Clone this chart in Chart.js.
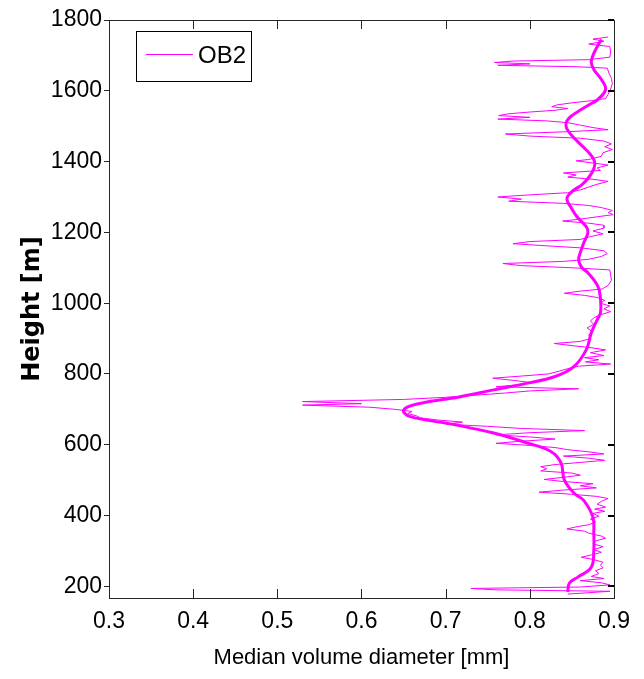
<!DOCTYPE html>
<html>
<head>
<meta charset="utf-8">
<title>OB2 median volume diameter</title>
<script src="https://cdn.jsdelivr.net/npm/chart.js@4.4.1/dist/chart.umd.min.js"></script>
<style>
  html, body { margin: 0; padding: 0; background: #fff; }
  canvas { display: block; }
</style>
</head>
<body>
<canvas id="mvdChart" width="644" height="679"></canvas>
<script>
'use strict';

// axis ticks
const xTicks = [0.3, 0.4, 0.5, 0.6, 0.7, 0.8, 0.9];
const yTicks = [200, 400, 600, 800, 1000, 1200, 1400, 1600, 1800];

// OB2 raw profile: height [m] and median volume diameter [mm]
const rawHeight = [
  1752, 1746, 1740, 1732, 1725, 1710, 1695, 1688, 1684, 1680,
  1676, 1672, 1668, 1664, 1650, 1635, 1620, 1605, 1590, 1578,
  1572, 1566, 1560, 1555, 1550, 1545, 1540, 1535, 1530, 1525,
  1520, 1515, 1510, 1503, 1496, 1490, 1484, 1478, 1472, 1466,
  1458, 1450, 1442, 1434, 1425, 1415, 1406, 1402, 1396, 1390,
  1382, 1375, 1368, 1362, 1356, 1350, 1344, 1336, 1328, 1320,
  1312, 1306, 1300, 1294, 1288, 1282, 1276, 1270, 1262, 1256,
  1250, 1244, 1238, 1232, 1226, 1220, 1212, 1204, 1196, 1188,
  1180, 1174, 1168, 1162, 1156, 1148, 1140, 1132, 1124, 1118,
  1112, 1106, 1100, 1094, 1080, 1065, 1050, 1040, 1034, 1028,
  1022, 1016, 1008, 1000, 992, 984, 976, 968, 960, 950,
  940, 930, 920, 910, 900, 892, 886, 880, 875, 868,
  860, 852, 846, 840, 834, 828, 822, 815, 808, 800,
  794, 788, 782, 776, 770, 764, 758, 752, 746, 740,
  734, 728, 722, 716, 712, 706, 700, 694, 688, 682,
  676, 670, 664, 658, 652, 646, 640, 634, 628, 622,
  616, 610, 604, 598, 592, 586, 580, 574, 568, 562,
  556, 550, 544, 538, 532, 526, 520, 514, 508, 502,
  496, 490, 484, 478, 472, 466, 460, 454, 448, 440,
  432, 424, 418, 412, 406, 398, 390, 382, 374, 368,
  362, 356, 350, 342, 336, 328, 320, 312, 304, 296,
  288, 282, 276, 268, 260, 252, 244, 236, 228, 222,
  216, 210, 204, 198, 194, 190, 186, 182, 178
];
const rawDiameter = [
  0.893, 0.875, 0.888, 0.870, 0.895, 0.896, 0.895, 0.870, 0.780, 0.758,
  0.800, 0.762, 0.855, 0.892, 0.894, 0.897, 0.898, 0.896, 0.893, 0.890,
  0.873, 0.850, 0.832, 0.826, 0.845, 0.830, 0.800, 0.775, 0.763, 0.800,
  0.762, 0.820, 0.845, 0.860, 0.875, 0.893, 0.840, 0.771, 0.800, 0.860,
  0.888, 0.897, 0.889, 0.898, 0.887, 0.885, 0.870, 0.855, 0.875, 0.893,
  0.880, 0.884, 0.840, 0.855, 0.845, 0.875, 0.893, 0.880, 0.870, 0.860,
  0.845, 0.800, 0.762, 0.790, 0.775, 0.840, 0.870, 0.885, 0.898, 0.893,
  0.899, 0.880, 0.862, 0.839, 0.870, 0.888, 0.888, 0.875, 0.887, 0.872,
  0.860, 0.800, 0.780, 0.820, 0.862, 0.888, 0.892, 0.885, 0.870, 0.840,
  0.768, 0.790, 0.850, 0.895, 0.896, 0.897, 0.893, 0.886, 0.860, 0.841,
  0.865, 0.880, 0.889, 0.884, 0.895, 0.888, 0.896, 0.885, 0.877, 0.872,
  0.876, 0.868, 0.874, 0.870, 0.872, 0.860, 0.829, 0.850, 0.870, 0.890,
  0.872, 0.888, 0.865, 0.882, 0.866, 0.896, 0.858, 0.845, 0.835, 0.822,
  0.790, 0.756, 0.780, 0.800, 0.790, 0.760, 0.858, 0.800, 0.770, 0.735,
  0.700, 0.650, 0.530, 0.600, 0.530, 0.610, 0.640, 0.660, 0.655, 0.665,
  0.670, 0.690, 0.720, 0.700, 0.750, 0.790, 0.865, 0.800, 0.760, 0.800,
  0.830, 0.790, 0.760, 0.800, 0.830, 0.845, 0.870, 0.888, 0.840, 0.870,
  0.889, 0.860, 0.830, 0.813, 0.820, 0.813, 0.850, 0.860, 0.840, 0.817,
  0.840, 0.875, 0.860, 0.879, 0.840, 0.811, 0.850, 0.880, 0.893, 0.885,
  0.880, 0.890, 0.877, 0.889, 0.875, 0.882, 0.872, 0.878, 0.870, 0.855,
  0.844, 0.865, 0.870, 0.885, 0.890, 0.878, 0.875, 0.887, 0.876, 0.885,
  0.872, 0.861, 0.875, 0.887, 0.884, 0.887, 0.878, 0.882, 0.873, 0.888,
  0.860, 0.885, 0.895, 0.860, 0.730, 0.760, 0.895, 0.870, 0.845
];

// smoothed OB2 profile
const smoothHeight = [
  1745, 1720, 1700, 1680, 1660, 1632, 1604, 1576, 1560, 1547,
  1530, 1515, 1500, 1485, 1468, 1440, 1420, 1400, 1380, 1355,
  1335, 1315, 1295, 1270, 1244, 1216, 1199, 1170, 1150, 1122,
  1100, 1086, 1047, 1010, 973, 953, 916, 868, 820, 792,
  774, 755, 735, 715, 698, 680, 657, 633, 605, 581,
  549, 501, 462, 443, 395, 350, 302, 254, 226, 209,
  184
];
const smoothDiameter = [
  0.885, 0.879, 0.875, 0.873, 0.876, 0.885, 0.890, 0.881, 0.870, 0.861,
  0.850, 0.844, 0.843, 0.846, 0.852, 0.864, 0.872, 0.877, 0.876, 0.870,
  0.862, 0.850, 0.844, 0.849, 0.856, 0.867, 0.869, 0.864, 0.861, 0.858,
  0.862, 0.869, 0.881, 0.884, 0.884, 0.880, 0.873, 0.867, 0.852, 0.829,
  0.797, 0.757, 0.716, 0.666, 0.650, 0.657, 0.710, 0.757, 0.797, 0.825,
  0.837, 0.841, 0.853, 0.864, 0.875, 0.876, 0.876, 0.873, 0.857, 0.847,
  0.845
];

const MAGENTA = '#ff00ff';
const AXIS = '#262626';
const sansFont = '"Liberation Sans", Arial, Helvetica, sans-serif';

const rawPoints = rawHeight.map((h, i) => ({ x: rawDiameter[i], y: h }));
const smoothPoints = smoothHeight.map((h, i) => ({ x: smoothDiameter[i], y: h }));

// box frame with inward ticks on top/right/bottom, plus the boxed legend
const matlabBox = {
  id: 'matlabBox',
  afterDatasetsDraw(chart) {
    const { ctx, chartArea: a, scales: { x, y } } = chart;
    ctx.save();
    ctx.strokeStyle = AXIS;
    ctx.lineWidth = 1;
    ctx.strokeRect(a.left + 0.5, a.top + 0.5, a.right - a.left, a.bottom - a.top);

    ctx.beginPath();
    xTicks.slice(1, -1).forEach(v => {
      const px = Math.round(x.getPixelForValue(v)) + 0.5;
      ctx.moveTo(px, a.top);
      ctx.lineTo(px, a.top + 9);
      ctx.moveTo(px, a.bottom);
      ctx.lineTo(px, a.bottom - 9);
    });
    ctx.stroke();

    ctx.strokeStyle = '#000';
    ctx.lineWidth = 2;
    ctx.beginPath();
    yTicks.forEach(v => {
      const py = Math.round(y.getPixelForValue(v));
      ctx.moveTo(a.right, py);
      ctx.lineTo(a.right - 6, py);
    });
    ctx.stroke();

    // legend
    const ds = chart.data.datasets[0];
    const lx = a.left + 27, ly = a.top + 11, lw = 115, lh = 50;
    ctx.fillStyle = '#fff';
    ctx.fillRect(lx, ly, lw, lh);
    ctx.strokeStyle = '#000';
    ctx.lineWidth = 1;
    ctx.strokeRect(lx + 0.5, ly + 0.5, lw, lh);
    ctx.strokeStyle = ds.borderColor;
    ctx.beginPath();
    ctx.moveTo(lx + 10, ly + 23.5);
    ctx.lineTo(lx + 57, ly + 23.5);
    ctx.stroke();
    ctx.fillStyle = '#000';
    ctx.font = '24px ' + sansFont;
    ctx.textBaseline = 'middle';
    ctx.textAlign = 'left';
    ctx.fillText(ds.label, lx + 62, ly + 25);
    ctx.restore();
  }
};

const ctx = document.getElementById('mvdChart').getContext('2d');

new Chart(ctx, {
  type: 'scatter',
  data: {
    datasets: [
      {
        label: 'OB2',
        data: rawPoints,
        showLine: true,
        borderColor: MAGENTA,
        borderWidth: 1,
        pointRadius: 0,
        tension: 0,
      },
      {
        label: 'OB2 smoothed',
        data: smoothPoints,
        showLine: true,
        borderColor: MAGENTA,
        borderWidth: 3,
        pointRadius: 0,
        tension: 0.4,
      },
    ],
  },
  options: {
    responsive: false,
    animation: false,
    layout: { padding: { top: 20, right: 30, bottom: 0, left: 0 } },
    plugins: {
      legend: { display: false },
      tooltip: { enabled: false },
    },
    scales: {
      x: {
        type: 'linear',
        min: 0.3,
        max: 0.9,
        afterBuildTicks: s => { s.ticks = xTicks.map(v => ({ value: v })); },
        afterFit: s => { s.height = 81; },
        grid: { display: false, drawTicks: false },
        border: { display: true, color: AXIS },
        ticks: {
          padding: 10,
          color: '#000',
          font: { family: sansFont, size: 23 },
          callback: v => v.toFixed(1),
        },
        title: {
          display: true,
          text: 'Median volume diameter [mm]',
          color: '#000',
          font: { family: sansFont, size: 22 },
          padding: { top: 0, bottom: 8 },
        },
      },
      y: {
        type: 'linear',
        min: 167,
        max: 1800,
        afterBuildTicks: s => { s.ticks = yTicks.map(v => ({ value: v })); },
        afterFit: s => { s.width = 109; },
        grid: {
          display: true,
          drawOnChartArea: false,
          drawTicks: true,
          tickLength: 5,
          color: AXIS,
        },
        border: { display: true, color: AXIS },
        ticks: {
          padding: 2,
          color: '#000',
          font: { family: sansFont, size: 23 },
          callback: v => String(v),
        },
        title: {
          display: true,
          text: 'Height [m]',
          color: '#000',
          font: { family: '"DejaVu Sans", sans-serif', weight: 'bold', size: 24 },
          padding: { top: 18, bottom: 0 },
        },
      },
    },
  },
  plugins: [matlabBox],
});
</script>
</body>
</html>
